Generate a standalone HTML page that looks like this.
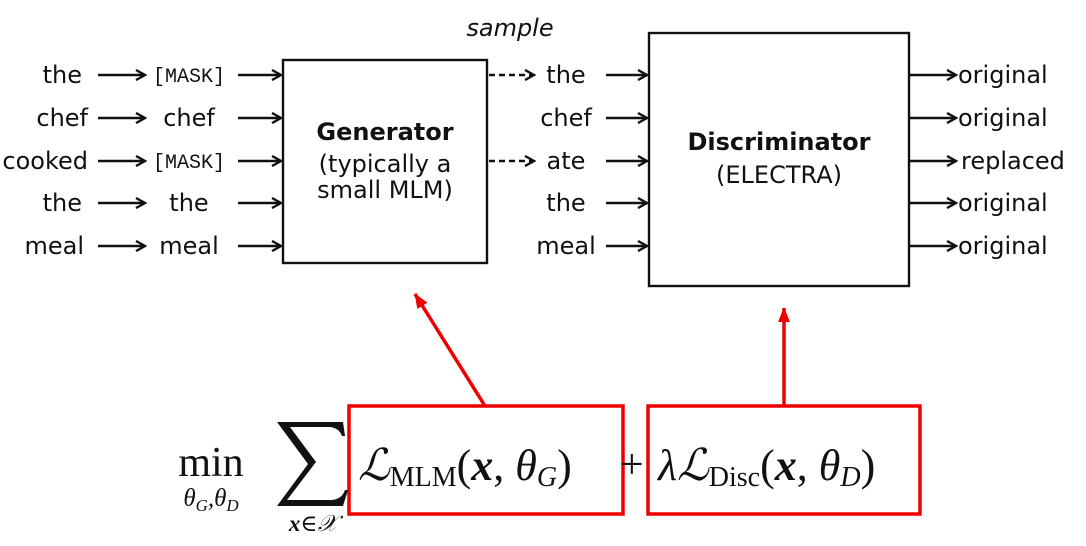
<!DOCTYPE html>
<html><head><meta charset="utf-8"><style>
html,body{margin:0;padding:0;background:#fff;}
svg{display:block;}
.s{font-family:"DejaVu Sans","Liberation Sans",sans-serif;font-size:24px;fill:#111;}
.m{font-family:"Liberation Mono",monospace;font-size:20px;fill:#111;}
.r{font-family:"Liberation Serif","DejaVu Serif",serif;fill:#111;}
</style></head><body>
<svg width="1086" height="546" viewBox="0 0 1086 546" xmlns="http://www.w3.org/2000/svg">
<defs>
<marker id="a" markerWidth="12" markerHeight="12" refX="10" refY="6" orient="auto" markerUnits="userSpaceOnUse">
<path d="M1,1 L10,6 L1,11" fill="none" stroke="#111" stroke-width="2.4"/>
</marker>
<marker id="ra" markerWidth="16" markerHeight="16" refX="14" refY="8" orient="auto" markerUnits="userSpaceOnUse">
<path d="M0,2 L15,8 L0,14 Z" fill="#e00"/>
</marker>
</defs>
<g stroke="#111" stroke-width="2.6" fill="none" marker-end="url(#a)">
<line x1="98" y1="75" x2="145" y2="75"/>
<line x1="98" y1="118" x2="145" y2="118"/>
<line x1="98" y1="161" x2="145" y2="161"/>
<line x1="98" y1="203" x2="145" y2="203"/>
<line x1="98" y1="246" x2="145" y2="246"/>
<line x1="238" y1="75" x2="281" y2="75"/>
<line x1="238" y1="118" x2="281" y2="118"/>
<line x1="238" y1="161" x2="281" y2="161"/>
<line x1="238" y1="203" x2="281" y2="203"/>
<line x1="238" y1="246" x2="281" y2="246"/>
<line x1="489" y1="75" x2="534" y2="75" stroke-dasharray="6,4"/>
<line x1="489" y1="161" x2="534" y2="161" stroke-dasharray="6,4"/>
<line x1="606" y1="75" x2="647" y2="75"/>
<line x1="606" y1="118" x2="647" y2="118"/>
<line x1="606" y1="161" x2="647" y2="161"/>
<line x1="606" y1="203" x2="647" y2="203"/>
<line x1="606" y1="246" x2="647" y2="246"/>
<line x1="910" y1="75" x2="956" y2="75"/>
<line x1="910" y1="118" x2="956" y2="118"/>
<line x1="910" y1="161" x2="956" y2="161"/>
<line x1="910" y1="203" x2="956" y2="203"/>
<line x1="910" y1="246" x2="956" y2="246"/>
</g>
<rect x="283" y="60" width="204" height="203" fill="none" stroke="#111" stroke-width="2.4"/>
<rect x="649" y="33" width="260" height="253" fill="none" stroke="#111" stroke-width="2.4"/>
<text x="510" y="36" class="s" text-anchor="middle" font-style="italic" font-size="23">sample</text>
<g class="s" text-anchor="end">
<text x="82" y="83">the</text><text x="88" y="126">chef</text><text x="88" y="169">cooked</text><text x="82" y="211">the</text><text x="84" y="254">meal</text>
</g>
<g text-anchor="middle">
<text x="189" y="82" class="m">[MASK]</text>
<text x="189" y="126" class="s">chef</text>
<text x="189" y="168" class="m">[MASK]</text>
<text x="189" y="211" class="s">the</text>
<text x="189" y="254" class="s">meal</text>
<text x="566" y="83" class="s">the</text>
<text x="566" y="126" class="s">chef</text>
<text x="566" y="169" class="s">ate</text>
<text x="566" y="211" class="s">the</text>
<text x="566" y="254" class="s">meal</text>
<text x="385" y="140" class="s" font-weight="bold" font-size="26">Generator</text>
<text x="385" y="172" class="s">(typically a</text>
<text x="385" y="198" class="s">small MLM)</text>
<text x="779" y="150" class="s" font-weight="bold" font-size="27">Discriminator</text>
<text x="779" y="183" class="s">(ELECTRA)</text>
</g>
<g class="s">
<text x="958" y="83">original</text><text x="958" y="126">original</text><text x="961" y="169">replaced</text><text x="958" y="211">original</text><text x="958" y="254">original</text>
</g>
<g stroke="#e00" stroke-width="3.5" fill="none">
<rect x="349" y="406" width="274" height="108"/>
<rect x="648" y="406" width="272" height="108"/>
<line x1="485" y1="406" x2="415" y2="294" marker-end="url(#ra)"/>
<line x1="784" y1="406" x2="784" y2="308" marker-end="url(#ra)"/>
</g>
<text x="211" y="476" class="r" font-size="42" text-anchor="middle">min</text>
<text x="211" y="506" class="r" font-size="25" font-style="italic" text-anchor="middle">θ<tspan font-size="17" dy="5">G</tspan><tspan dy="-5">,θ</tspan><tspan font-size="17" dy="5">D</tspan></text>
<path d="M277,422 L343,422 L345,436 L342,436 Q339,428 330,427 L290,427 L316,462 L287,500 L332,500 Q342,499 345,490 L348,490 L343,506 L277,506 L308,464 Z" fill="#111"/>
<text x="313" y="531" class="r" font-size="23" font-style="italic" font-weight="bold" text-anchor="middle">x<tspan font-weight="normal" font-style="normal">∈</tspan><tspan font-weight="normal">𝒳</tspan></text>
<text x="358" y="480" class="r" font-size="44"><tspan font-style="italic">ℒ</tspan><tspan font-size="28" dy="6">MLM</tspan><tspan dy="-6">(</tspan><tspan font-weight="bold" font-style="italic">x</tspan>, <tspan font-style="italic">θ</tspan><tspan font-size="28" dy="6" font-style="italic">G</tspan><tspan dy="-6">)</tspan></text>
<text x="620" y="478" class="r" font-size="42">+</text>
<text x="658" y="480" class="r" font-size="44"><tspan font-style="italic">λℒ</tspan><tspan font-size="28" dy="6">Disc</tspan><tspan dy="-6">(</tspan><tspan font-weight="bold" font-style="italic">x</tspan>, <tspan font-style="italic">θ</tspan><tspan font-size="28" dy="6" font-style="italic">D</tspan><tspan dy="-6">)</tspan></text>
</svg>
</body></html>
